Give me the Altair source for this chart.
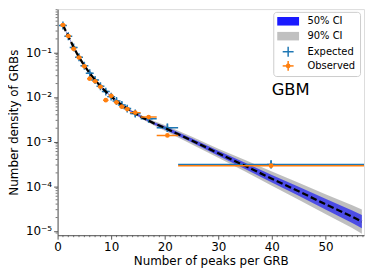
import altair as alt
import pandas as pd
import numpy as np

# ---------------- data ----------------
# model curve (median) and credible-interval half widths in dex
model_x = [1, 2, 3, 4, 5, 6, 7, 8, 9, 10, 12, 14, 16, 18, 20, 25, 30, 35, 40, 45, 50, 55, 56.8]
model_y = [0.407, 0.229, 0.129, 0.0776, 0.0501, 0.0339, 0.0240, 0.0174, 0.0132, 0.0102,
           0.00661, 0.00457, 0.00339, 0.00257, 0.00204, 0.00107, 5.50e-4, 2.88e-4,
           1.48e-4, 7.76e-5, 3.98e-5, 2.09e-5, 1.62e-5]
ci50_dex = [0.01, 0.01, 0.01, 0.01, 0.01, 0.01, 0.01, 0.01, 0.01, 0.01,
            0.012, 0.015, 0.02, 0.025, 0.035, 0.045, 0.055, 0.07, 0.085, 0.10, 0.12, 0.14, 0.15]
ci90_dex = [0.02, 0.02, 0.02, 0.02, 0.02, 0.02, 0.02, 0.02, 0.02, 0.02,
            0.025, 0.03, 0.04, 0.05, 0.065, 0.085, 0.10, 0.13, 0.16, 0.19, 0.22, 0.255, 0.27]

# bins (edges) of the histogram
bin_lo = [0.5, 1.5, 2.5, 3.5, 4.5, 5.5, 6.5, 7.5, 8.5, 9.5, 10.5, 11.5, 12.5, 13.5, 15.5, 18.5, 22.5]
bin_hi = [1.5, 2.5, 3.5, 4.5, 5.5, 6.5, 7.5, 8.5, 9.5, 10.5, 11.5, 12.5, 13.5, 15.5, 18.5, 22.5, 57.2]

observed = [0.410, 0.232, 0.120, 0.0766, 0.0486, 0.0257, 0.0225, 0.0170, 0.00851, 0.0106,
            0.00759, 0.00607, 0.00537, 0.00447, 0.00355, 0.00138, 2.90e-4]
expected = [0.398, 0.229, 0.129, 0.0776, 0.0501, 0.0339, 0.0240, 0.0174, 0.0132, 0.0102,
            0.00813, 0.00661, 0.00550, 0.00427, 0.00324, 0.00204, 3.10e-4]
expected_err_dex = [0.03, 0.03, 0.03, 0.03, 0.03, 0.05, 0.05, 0.05, 0.05, 0.05,
                    0.06, 0.06, 0.06, 0.07, 0.08, 0.095, 0.09]
observed_err_dex = [0.01, 0.01, 0.01, 0.01, 0.01, 0.02, 0.02, 0.02, 0.02, 0.02,
                    0.02, 0.02, 0.02, 0.02, 0.02, 0.02, 0.01]

y_ticks_major = [1e-1, 1e-2, 1e-3, 1e-4, 1e-5]
x_ticks_major = [0, 10, 20, 30, 40, 50]
x_ticks_minor = [v for v in range(0, 58) if v % 10 != 0]
y_ticks_minor = [m * 10.0 ** e for e in range(-6, 0) for m in range(2, 10)
                 if 8.05e-6 <= m * 10.0 ** e <= 0.93]

# ---------------- tables ----------------
my = np.array(model_y)
model = pd.DataFrame({
    "x": model_x, "y": model_y,
    "lo50": my * 10 ** (-np.array(ci50_dex)), "hi50": my * 10 ** (np.array(ci50_dex)),
    "lo90": my * 10 ** (-np.array(ci90_dex)), "hi90": my * 10 ** (np.array(ci90_dex)),
})
bins = pd.DataFrame({"lo": bin_lo, "hi": bin_hi})
bins["c"] = (bins["lo"] + bins["hi"]) / 2
bins["obs"] = observed
bins["exp"] = expected
bins["exp_lo"] = np.array(expected) * 10 ** (-np.array(expected_err_dex))
bins["exp_hi"] = np.array(expected) * 10 ** (np.array(expected_err_dex))
bins["obs_lo"] = np.array(observed) * 10 ** (-np.array(observed_err_dex))
bins["obs_hi"] = np.array(observed) * 10 ** (np.array(observed_err_dex))

BLUE = "#1f77b4"
ORANGE = "#ff7f0e"
FONT = "DejaVu Sans"
AX = "#555"
W, H = 309, 228

y_label_expr = (
    "round(log(datum.value)/LN10) == -1 ? '10⁻¹' : "
    "round(log(datum.value)/LN10) == -2 ? '10⁻²' : "
    "round(log(datum.value)/LN10) == -3 ? '10⁻³' : "
    "round(log(datum.value)/LN10) == -4 ? '10⁻⁴' : "
    "round(log(datum.value)/LN10) == -5 ? '10⁻⁵' : ''"
)

xscale = alt.Scale(domain=[0, 57.2], nice=False, zero=False)
yscale = alt.Scale(type="log", domain=[8.05e-6, 0.93], nice=False)

x_axis = alt.Axis(
    title="Number of peaks per GRB", values=x_ticks_major, format="d",
    tickSize=4, grid=False, labelFontSize=12, titleFontSize=12, labelPadding=2, titlePadding=4,
    labelOverlap=False, labelFlush=False, labelColor="#000", titleColor="#000",
    domainColor=AX, tickColor=AX, titleFontWeight="normal",
)
y_axis = alt.Axis(
    title="Number density of GRBs", values=y_ticks_major, labelExpr=y_label_expr,
    tickSize=4, grid=False, labelFontSize=12, titleFontSize=12, labelPadding=2, titlePadding=5,
    labelOverlap=False, labelFlush=False, labelColor="#000", titleColor="#000",
    domainColor=AX, tickColor=AX, titleFontWeight="normal",
)

base_m = alt.Chart(model)
band90 = base_m.mark_area(color="#808080", opacity=0.5, clip=True).encode(
    x=alt.X("x:Q", scale=xscale, axis=x_axis),
    y=alt.Y("lo90:Q", scale=yscale, axis=y_axis),
    y2="hi90:Q",
)
band50 = base_m.mark_area(color="#0000ff", opacity=0.6, clip=True).encode(
    x="x:Q", y="lo50:Q", y2="hi50:Q")
line = base_m.mark_line(color="black", strokeWidth=2.3, strokeDash=[6.5, 3], clip=True).encode(
    x="x:Q", y="y:Q")

base_b = alt.Chart(bins)
exp_h = base_b.mark_rule(color=BLUE, strokeWidth=1.5, clip=True).encode(
    x="lo:Q", x2="hi:Q", y="exp:Q")
exp_v = base_b.mark_rule(color=BLUE, strokeWidth=1.5, clip=True).encode(
    x="c:Q", y="exp_lo:Q", y2="exp_hi:Q")
exp_p = base_b.mark_point(shape="M-1,0H1M0,-1V1", size=64, color=BLUE, strokeWidth=1.5,
                          filled=False, opacity=1, clip=True).encode(x="c:Q", y="exp:Q")
obs_h = base_b.mark_rule(color=ORANGE, strokeWidth=1.5, clip=True).encode(
    x="lo:Q", x2="hi:Q", y="obs:Q")
obs_v = base_b.mark_rule(color=ORANGE, strokeWidth=1.5, clip=True).encode(
    x="c:Q", y="obs_lo:Q", y2="obs_hi:Q")
obs_p = base_b.mark_circle(color=ORANGE, size=22, opacity=1, clip=True).encode(
    x="c:Q", y="obs:Q")

# minor ticks (outward, short)
xmin_df = pd.DataFrame({"v": x_ticks_minor})
ymin_df = pd.DataFrame({"v": y_ticks_minor})
xminor = alt.Chart(xmin_df).mark_rule(color=AX, strokeWidth=0.8).encode(
    x="v:Q", y=alt.value(H), y2=alt.value(H + 2))
yminor = alt.Chart(ymin_df).mark_rule(color=AX, strokeWidth=0.8).encode(
    y="v:Q", x=alt.value(-2), x2=alt.value(0))

# ---------------- legend & label ----------------
one = pd.DataFrame({"k": [0]})
lg = alt.Chart(one)
leg_box = lg.mark_rect(fill="white", fillOpacity=0.8, stroke="#cccccc", strokeWidth=1,
                       cornerRadius=3).encode(
    x=alt.value(218), x2=alt.value(305.5), y=alt.value(3.3), y2=alt.value(68))
leg_r50 = lg.mark_rect(fill="#1a1aff").encode(
    x=alt.value(221.5), x2=alt.value(243.5), y=alt.value(8.0), y2=alt.value(16.6))
leg_r90 = lg.mark_rect(fill="#c0c0c0").encode(
    x=alt.value(221.5), x2=alt.value(243.5), y=alt.value(23.0), y2=alt.value(31.6))
leg_eh = lg.mark_rule(color=BLUE, strokeWidth=1.5).encode(
    x=alt.value(227), x2=alt.value(238), y=alt.value(43))
leg_ev = lg.mark_rule(color=BLUE, strokeWidth=1.5).encode(
    x=alt.value(232.5), y=alt.value(38), y2=alt.value(48))
leg_oh = lg.mark_rule(color=ORANGE, strokeWidth=1.5).encode(
    x=alt.value(227), x2=alt.value(238), y=alt.value(57.3))
leg_ov = lg.mark_rule(color=ORANGE, strokeWidth=1.5).encode(
    x=alt.value(232.5), y=alt.value(52.3), y2=alt.value(62.3))
leg_od = lg.mark_circle(color=ORANGE, size=22, opacity=1).encode(
    x=alt.value(232.5), y=alt.value(57.3))

def leg_text(txt, y):
    return lg.mark_text(align="left", baseline="middle", fontSize=10, font=FONT,
                        color="#000").encode(x=alt.value(252), y=alt.value(y), text=alt.value(txt))

t1 = leg_text("50% CI", 12.3)
t2 = leg_text("90% CI", 27.3)
t3 = leg_text("Expected", 43)
t4 = leg_text("Observed", 57.3)
gbm = lg.mark_text(align="center", baseline="middle", fontSize=16.5, font=FONT,
                   color="#000").encode(x=alt.value(235), y=alt.value(81.5), text=alt.value("GBM"))

chart = alt.layer(
    band90, band50, exp_h, exp_v, exp_p, line, obs_h, obs_v, obs_p, xminor, yminor,
    leg_box, leg_r50, leg_r90, leg_eh, leg_ev, leg_oh, leg_ov, leg_od, t1, t2, t3, t4, gbm,
).properties(
    width=W, height=H,
    autosize=alt.AutoSizeParams(type="none"),
    padding={"left": 50, "top": 0, "right": 2, "bottom": 34},
).configure_view(stroke=AX, strokeWidth=1).configure(font=FONT).configure_axis(
    labelFont=FONT, titleFont=FONT)

chart.save("out.html", embed_options={"renderer": "svg", "actions": False})
